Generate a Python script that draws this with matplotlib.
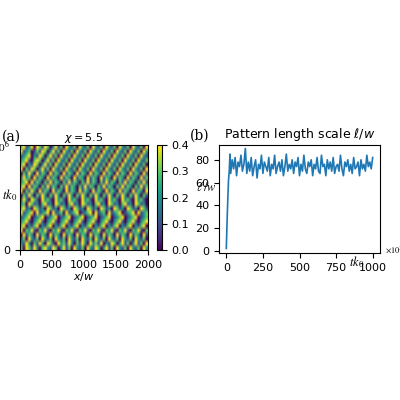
import numpy as np
import matplotlib.pyplot as plt

plt.rcParams['font.size'] = 8

# pattern snapshot, digits 0..4 -> 0.0..0.4 (rows from bottom t=0 to top)
pattern_rows = [
    "304314203421430241304213042143024130421304213042",
    "214203142043104231420314204231402143024130241304",
    "130421304213042130421304213042130421304213042130",
    "041320413204132041320413204132041320413204132041",
    "403241032410324103241032410324103241032410324103",
    "340213402134021340213402134021340213402134021340",
    "234102341023410234102341023410234102341023410234",
    "123401234012340123401234012340123401234012340123",
    "412340412340412304123401234041230412340123404123",
    "341204312043120431204312043120431204312043120431",
    "230431203412043120341204312034120431203412043120",
    "142043104231042310423104231042310423104231042310",
    "031420314203142031420314203142031420314203142031",
    "403142041320413204132041320413204132041320413204",
    "340413203141320314132031413203141320314132031413",
    "234041320314132031413203141320314132031413203141",
    "142304132041320413204132041320413204132041320413",
    "031420413204132041320413204132041320413204132041",
    "403143024130421304213042130421304213042130421304",
    "340214302413042130421304213042130421304213042130",
    "234103430241304213042130421304213042130421304213",
    "123402143024130421304213042130421304213042130421",
    "412301314302413042130421304213042130421304213042",
    "341240431430241304213042130421304213042130421304",
]
pattern = np.array([[int(c) / 10 for c in r] for r in pattern_rows])

# pattern length scale over time (x 10^3 tk0)
t_vals = [0, 5, 10, 15, 20, 25, 30, 40, 50, 60, 70, 80, 90, 100, 110, 120, 130, 140,
          150, 160, 170, 180, 190, 200, 210, 220, 230, 240, 250, 260, 270, 280, 290,
          300, 310, 320, 330, 340, 350, 360, 370, 380, 390, 400, 410, 420, 430, 440,
          450, 460, 470, 480, 490, 500, 510, 520, 530, 540, 550, 560, 570, 580, 590,
          600, 610, 620, 630, 640, 650, 660, 670, 680, 690, 700, 710, 720, 730, 740,
          750, 760, 770, 780, 790, 800, 810, 820, 830, 840, 850, 860, 870, 880, 890,
          900, 910, 920, 930, 940, 950, 960, 970, 980, 990, 1000]
ell_vals = [2, 25, 45, 62, 70, 85, 68, 80, 72, 82, 66, 78, 74, 84, 70, 76, 90, 68,
            78, 70, 82, 66, 74, 80, 64, 76, 72, 84, 68, 78, 74, 70, 82, 66, 76, 72,
            84, 68, 74, 78, 70, 80, 66, 74, 85, 70, 76, 72, 80, 68, 78, 74, 82, 66,
            76, 70, 84, 72, 68, 78, 74, 80, 66, 76, 72, 82, 70, 68, 84, 74, 76, 66,
            80, 72, 78, 70, 82, 68, 74, 76, 70, 84, 72, 66, 78, 74, 80, 70, 76, 68,
            82, 72, 74, 78, 66, 80, 72, 76, 70, 84, 74, 78, 72, 82]

fig = plt.figure(figsize=(4, 4), dpi=100)

ax1 = fig.add_axes([0.05, 0.375, 0.32, 0.2625])
im = ax1.imshow(pattern, cmap='viridis', vmin=0, vmax=0.4, origin='lower',
                aspect='auto', extent=[0, 2000, 0, 1e6], interpolation='bilinear')
ax1.set_yticks([0, 1e6])
ax1.set_yticklabels(['0', '$10^6$'], math_fontfamily='stix')
ax1.set_xticks([0, 500, 1000, 1500, 2000])
ax1.set_xlabel('$x/w$', labelpad=0)
ax1.set_ylabel('$tk_0$', rotation=0, fontsize=9, math_fontfamily='stix')
ax1.yaxis.set_label_coords(-0.08, 0.45)
ax1.set_title('$\\chi = 5.5$', fontsize=8, pad=3)
ax1.text(-0.14, 1.04, '(a)', transform=ax1.transAxes, fontsize=10, family='serif')

cax = fig.add_axes([0.392, 0.375, 0.013, 0.2625])
cb = fig.colorbar(im, cax=cax)
cb.set_ticks([0, 0.1, 0.2, 0.3, 0.4])
cb.ax.text(7.5, 0.6, '$\\ell/w$', transform=cb.ax.transAxes, fontsize=9,
           math_fontfamily='stix', va='center')

ax2 = fig.add_axes([0.5475, 0.3675, 0.4025, 0.27])
ax2.plot(t_vals, ell_vals, color='#1f77b4', lw=1.2)
ax2.set_ylim(-2, 93)
ax2.set_xlim(-50, 1050)
ax2.set_yticks([0, 20, 40, 60, 80])
ax2.set_xticks([0, 250, 500, 750, 1000])
ax2.set_title('Pattern length scale $\\ell/w$', fontsize=9, pad=5)
ax2.text(0.81, -0.12, '$tk_0$', transform=ax2.transAxes, fontsize=9, math_fontfamily='stix')
ax2.text(1.03, 0.0, '$\\times 10^3$', transform=ax2.transAxes, fontsize=6, math_fontfamily='stix')
ax2.text(-0.18, 1.05, '(b)', transform=ax2.transAxes, fontsize=10, family='serif')

fig.savefig('out.png', dpi=100)
